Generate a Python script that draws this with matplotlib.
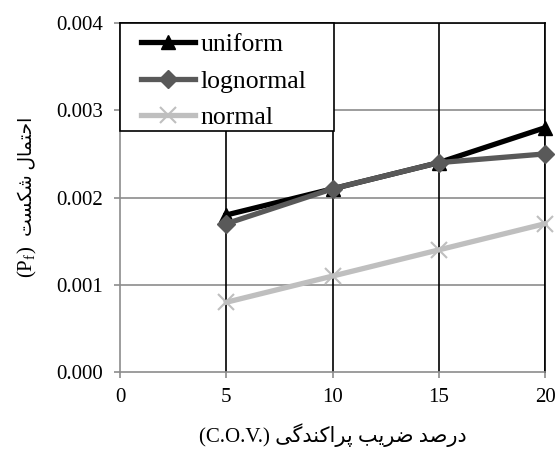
import matplotlib
matplotlib.use('Agg')
import matplotlib.pyplot as plt
from matplotlib.patches import Rectangle
from matplotlib.ticker import FormatStrFormatter

# data
cov = [5, 10, 15, 20]
uniform = [0.0018, 0.0021, 0.0024, 0.0028]
lognormal = [0.0017, 0.0021, 0.0024, 0.0025]
normal = [0.0008, 0.0011, 0.0014, 0.0017]
x_ticks = [0, 5, 10, 15, 20]
y_ticks = [0.000, 0.001, 0.002, 0.003, 0.004]

x_label_fa = 'درصد ضریب پراکندگی'
y_label_fa = 'احتمال شکست'


# matplotlib has no arabic shaping, so do a tiny one by hand
# (isolated, final, initial, medial)
FORMS = {
    'ا': (0xFE8D, 0xFE8E), 'د': (0xFEA9, 0xFEAA), 'ر': (0xFEAD, 0xFEAE),
    'ب': (0xFE8F, 0xFE90, 0xFE91, 0xFE92), 'ت': (0xFE95, 0xFE96, 0xFE97, 0xFE98),
    'ح': (0xFEA1, 0xFEA2, 0xFEA3, 0xFEA4), 'س': (0xFEB1, 0xFEB2, 0xFEB3, 0xFEB4),
    'ش': (0xFEB5, 0xFEB6, 0xFEB7, 0xFEB8), 'ص': (0xFEB9, 0xFEBA, 0xFEBB, 0xFEBC),
    'ض': (0xFEBD, 0xFEBE, 0xFEBF, 0xFEC0), 'ل': (0xFEDD, 0xFEDE, 0xFEDF, 0xFEE0),
    'م': (0xFEE1, 0xFEE2, 0xFEE3, 0xFEE4), 'ن': (0xFEE5, 0xFEE6, 0xFEE7, 0xFEE8),
    'پ': (0xFB56, 0xFB57, 0xFB58, 0xFB59), 'ک': (0xFB8E, 0xFB8F, 0xFB90, 0xFB91),
    'گ': (0xFB92, 0xFB93, 0xFB94, 0xFB95), 'ی': (0xFBFC, 0xFBFD, 0xFBFE, 0xFBFF),
}


def shape(text):
    out = []
    for i, ch in enumerate(text):
        if ch not in FORMS:
            out.append(ch)
            continue
        prev = text[i - 1] if i > 0 else ''
        nxt = text[i + 1] if i + 1 < len(text) else ''
        f = FORMS[ch]
        join_prev = prev in FORMS and len(FORMS[prev]) == 4
        join_next = len(f) == 4 and nxt in FORMS
        if join_prev and join_next:
            out.append(chr(f[3]))
        elif join_prev:
            out.append(chr(f[1]))
        elif join_next:
            out.append(chr(f[2]))
        else:
            out.append(chr(f[0]))
    return ''.join(out)[::-1]


plt.rcParams['font.family'] = ['Liberation Serif', 'DejaVu Sans']
plt.rcParams['mathtext.fontset'] = 'custom'
plt.rcParams['mathtext.rm'] = 'Liberation Serif'
plt.rcParams['mathtext.it'] = 'Liberation Serif:italic'

fig = plt.figure(figsize=(5.59, 4.51), dpi=100)
ax = fig.add_axes([0.2147, 0.175, 0.7603, 0.774])

ax.plot(cov, uniform, color='black', lw=3.8, marker='^', ms=10, label='uniform', clip_on=False, zorder=5)
ax.plot(cov, lognormal, color='#595959', lw=3.8, marker='D', ms=9, label='lognormal', clip_on=False, zorder=6)
ax.plot(cov, normal, color='#bfbfbf', lw=3.8, marker='x', ms=12, mew=1.5, label='normal', clip_on=False, zorder=4)

ax.set_xlim(0, 20)
ax.set_ylim(0, 0.004)
ax.set_xticks(x_ticks)
ax.set_yticks(y_ticks)
ax.yaxis.set_major_formatter(FormatStrFormatter('%.3f'))

# gridlines: horizontal gray, vertical black
for y in y_ticks[1:]:
    ax.axhline(y, color='#8c8c8c', lw=1.2, zorder=1)
for x in x_ticks[1:]:
    ax.axvline(x, color='black', lw=1.2, zorder=1)

for s in ['left', 'bottom']:
    ax.spines[s].set_color('#8c8c8c')
    ax.spines[s].set_linewidth(1.2)
for s in ['top', 'right']:
    ax.spines[s].set_color('black')
    ax.spines[s].set_linewidth(1.2)

ax.tick_params(axis='both', labelsize=15, color='#8c8c8c', length=4.5, width=1.2)
ax.tick_params(axis='y', pad=8)
ax.tick_params(axis='x', pad=7)

ax.set_xlabel('(C.O.V.) ' + shape(x_label_fa), fontsize=15, labelpad=12)

# y label: persian part and (Pf) drawn separately (mathtext can't do arabic)
ax.text(-0.217, 0.56, shape(y_label_fa), transform=ax.transAxes, rotation=90,
        ha='center', va='center', fontsize=13.5)
ax.text(-0.217, 0.315, '(P$_\\mathrm{f}$)', transform=ax.transAxes, rotation=90,
        ha='center', va='center', fontsize=15)

# legend frame drawn by hand so the inner padding can match
ax.add_patch(Rectangle((0, 0.69), 0.504, 0.31, transform=ax.transAxes, facecolor='white',
                       edgecolor='black', lw=1.2, zorder=9, clip_on=False))
leg = ax.legend(loc='upper left', bbox_to_anchor=(0.05, 0.97), borderaxespad=0, borderpad=0,
                fontsize=18.5, handlelength=2.1, handletextpad=0.2, labelspacing=0.52,
                frameon=False)
leg.set_zorder(10)

fig.savefig('out.png', dpi=100)
